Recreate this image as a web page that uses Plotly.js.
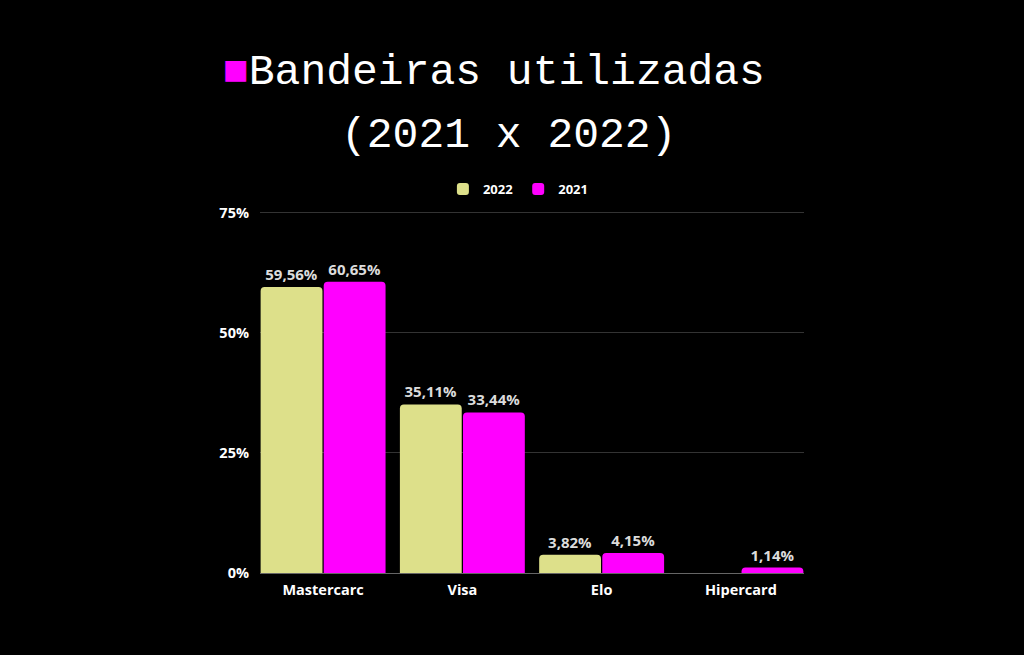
<!DOCTYPE html>
<html>
<head>
<meta charset="utf-8">
<script src="https://cdn.plot.ly/plotly-3.0.1.min.js"></script>
<style>
  html, body { margin: 0; padding: 0; background: #000; }
  #chart { width: 1024px; height: 655px; }
</style>
</head>
<body>
<div id="chart"></div>
<script>
// chart data
var categories = ['Mastercarc', 'Visa', 'Elo', 'Hipercard'];
var values2022 = [59.56, 35.11, 3.82, 0];
var values2021 = [60.65, 33.44, 4.15, 1.14];

// labels like "59,56%", nothing for empty bars
function labels(vals) {
    return vals.map(function (v) {
        return v > 0 ? v.toFixed(2).replace('.', ',') + '%' : '';
    });
}

var labelFont = { family: 'Open Sans', size: 15, color: '#dcdcdc', weight: 700 };
var tickFont = { family: 'Open Sans', size: 14.5, color: '#fff', weight: 700 };

var data = [
    {
        x: categories, y: values2022, name: '2022', type: 'bar',
        marker: { color: '#dde08a' },
        text: labels(values2022), textposition: 'outside', cliponaxis: false,
        textfont: labelFont, hoverinfo: 'skip'
    },
    {
        x: categories, y: values2021, name: '2021', type: 'bar',
        marker: { color: '#ff00ff' },
        text: labels(values2021), textposition: 'outside', cliponaxis: false,
        textfont: labelFont, hoverinfo: 'skip'
    }
];

var layout = {
    width: 1024, height: 655,
    paper_bgcolor: '#000', plot_bgcolor: '#000',
    margin: { l: 260, r: 220, t: 209, b: 82 },
    barmode: 'group', bargap: 0.094, bargroupgap: 0.02,
    barcornerradius: 4,
    showlegend: true,
    legend: {
        orientation: 'h', x: 0.475, xanchor: 'center', y: 1.055, yanchor: 'middle',
        font: { family: 'Open Sans', size: 13, color: '#fff', weight: 700 },
        itemwidth: 30
    },
    xaxis: {
        range: [-0.453, 3.453],
        showgrid: false, ticks: '', showline: true, linecolor: '#666', linewidth: 1,
        tickfont: tickFont, ticklabelstandoff: 4
    },
    yaxis: {
        range: [0, 75.83], dtick: 25, ticksuffix: '%',
        gridcolor: '#333', zeroline: false, ticks: '',
        tickfont: tickFont, ticklabelstandoff: 10
    },
    annotations: [
        {
            xref: 'paper', yref: 'paper', x: (494 - 260) / 544, y: 1 + (209 - 72) / 364,
            xanchor: 'center', yanchor: 'middle', showarrow: false,
            text: '<span style="color:#ff00ff">■</span>Bandeiras utilizadas',
            font: { family: 'Liberation Mono', size: 43, color: '#fff' }
        },
        {
            xref: 'paper', yref: 'paper', x: (508 - 260) / 544, y: 1 + (209 - 135) / 364,
            xanchor: 'center', yanchor: 'middle', showarrow: false,
            text: '(2021 x 2022)',
            font: { family: 'Liberation Mono', size: 43, color: '#fff' }
        }
    ]
};

Plotly.newPlot('chart', data, layout, { displayModeBar: false, staticPlot: true });
</script>
</body>
</html>
